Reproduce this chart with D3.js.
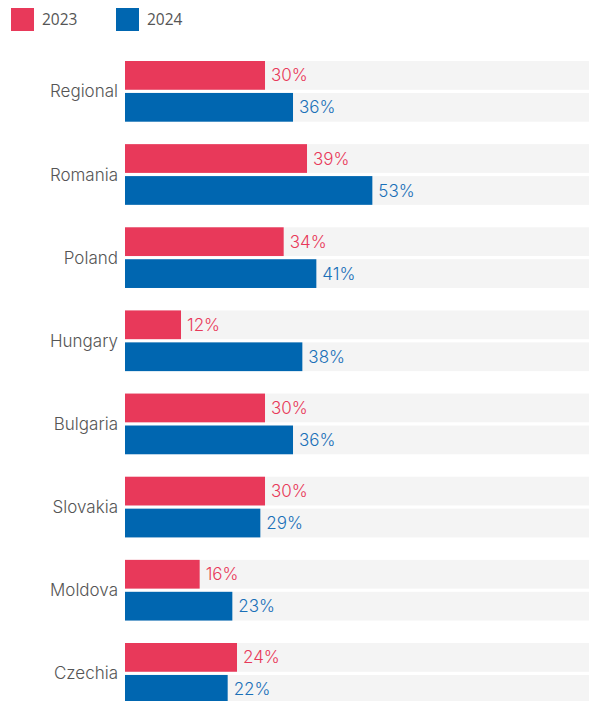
<!DOCTYPE html>
<html><head><meta charset="utf-8">
<script src="https://cdn.jsdelivr.net/npm/d3@7"></script>
<style>body{margin:0;background:#fff;}svg{display:block;}</style>
</head><body>
<svg id="c" width="589" height="701"></svg>
<script>
const categories = ["Regional","Romania","Poland","Hungary","Bulgaria","Slovakia","Moldova","Czechia"];
const seriesNames = ["2023","2024"];
const values2023 = [30,39,34,12,30,30,16,24];
const values2024 = [36,53,41,38,36,29,23,22];
const colors = ["#E8395A","#0066B0"];
const textColors = ["#E8395A","#1A70B8"];

const svg = d3.select("#c");
const font = "Inter, 'Open Sans', sans-serif";

const x = d3.scaleLinear().domain([0,100]).range([125,591.7]);
const y = d3.scaleBand().domain(categories).range([61, 703.7]).paddingInner(0.27).paddingOuter(0);
const yi = d3.scaleBand().domain(seriesNames).range([0, y.bandwidth()]).paddingInner(0.1).paddingOuter(0);

const data = categories.map((c,i)=>({cat:c, vals:[values2023[i], values2024[i]]}));

const g = svg.selectAll("g.row").data(data).enter().append("g").attr("class","row")
  .attr("transform", d=>`translate(0,${y(d.cat)})`);

seriesNames.forEach((s,si)=>{
  g.append("rect").attr("x", x(0)).attr("y", yi(s)).attr("width", 589 - x(0)).attr("height", yi.bandwidth()).attr("fill","#F4F4F4");
  g.append("rect").attr("x", x(0)).attr("y", yi(s)).attr("width", d=>x(d.vals[si])-x(0)).attr("height", yi.bandwidth()).attr("fill", colors[si]);
  g.append("text").attr("x", d=>x(d.vals[si])+6).attr("y", yi(s)+yi.bandwidth()/2).attr("dy","0.36em")
    .attr("font-family", font).attr("font-size", 17).attr("font-weight", 300).attr("fill", textColors[si])
    .text(d=>d.vals[si]+"%");
});

g.append("text").attr("x", 118).attr("y", y.bandwidth()/2).attr("dy","0.36em").attr("text-anchor","end")
  .attr("font-family", font).attr("font-size", 17).attr("font-weight", 300).attr("fill","#555").text(d=>d.cat);

// legend
const legX = [11,116];
seriesNames.forEach((s,i)=>{
  svg.append("rect").attr("x", legX[i]).attr("y", 8).attr("width", 23).attr("height", 23).attr("fill", colors[i]);
  svg.append("text").attr("x", legX[i]+31).attr("y", 19.5).attr("dy","0.36em")
    .attr("font-family","'Open Sans', 'Noto Sans', sans-serif").attr("font-size", 15.5).attr("fill","#555").text(s);
});
</script>
</body></html>
